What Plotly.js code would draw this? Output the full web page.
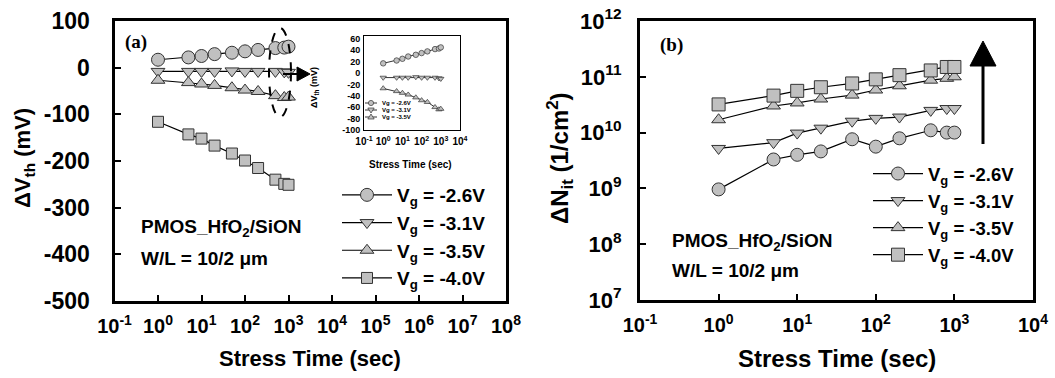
<!DOCTYPE html>
<html><head><meta charset="utf-8">
<script src="https://cdn.plot.ly/plotly-3.0.1.min.js"></script>
<style>html,body{margin:0;padding:0;background:#fff}</style>
</head><body><div id="chart" style="width:1055px;height:378px"></div>
<script>
// ---------------- data ----------------
const stressTime = [1, 5, 10, 20, 50, 100, 200, 500, 800, 1000];

// panel (a): threshold-voltage shift (mV)
const dVth_m26 = [17, 22, 25, 29, 32, 35, 38, 42, 43, 45];
const dVth_m31 = [-8, -8, -8, -8, -7, -8, -8, -8, -9, -10];
const dVth_m35 = [-27, -32, -35, -38, -43, -48, -51, -60, -64, -63];
const dVth_m40 = [-116, -143, -152, -167, -184, -199, -215, -240, -249, -251];

// panel (b): interface trap density (1/cm^2)
const dNit_m26 = [9.6e8, 3.3e9, 4.0e9, 4.6e9, 7.6e9, 5.6e9, 7.9e9, 1.1e10, 1.0e10, 1.0e10];
const dNit_m31 = [5.2e9, 6.6e9, 9.8e9, 1.2e10, 1.6e10, 1.8e10, 1.9e10, 2.5e10, 2.7e10, 2.7e10];
const dNit_m35 = [1.7e10, 3.0e10, 3.4e10, 4.0e10, 4.7e10, 5.8e10, 6.9e10, 8.7e10, 9.4e10, 1.0e11];
const dNit_m40 = [3.2e10, 4.6e10, 5.6e10, 6.5e10, 7.6e10, 9.0e10, 1.07e11, 1.3e11, 1.5e11, 1.5e11];

const seriesNames = ['V<sub>g</sub> = -2.6V', 'V<sub>g</sub> = -3.1V', 'V<sub>g</sub> = -3.5V', 'V<sub>g</sub> = -4.0V'];
const insetNames = ['Vg = -2.6V', 'Vg = -3.1V', 'Vg = -3.5V'];
const symbols = ['circle', 'triangle-down', 'triangle-up', 'square'];

const xExpA = [-1, 0, 1, 2, 3, 4, 5, 6, 7, 8];
const xExpB = [-1, 0, 1, 2, 3, 4];
const yTicksA = [100, 0, -100, -200, -300, -400, -500];
const yExpB = [7, 8, 9, 10, 11, 12];
const insetYTicks = [60, 40, 20, 0, -20, -40, -60, -80, -100];

// ---------------- helpers ----------------
const W = 1055, H = 378;
const px = x => x / W;
const py = y => 1 - y / H;
const pow10 = e => Math.pow(10, e);
const powText = e => '10<sup>' + e + '</sup>';
const FONT = 'Liberation Sans, Arial, Helvetica, sans-serif';
const SERIF = 'Liberation Serif, Times New Roman, serif';
const FILL = '#c0c0c0', EDGE = '#333333';

function mk(x, y, i, xa, ya, size, lw, legendName, showlegend) {
  return {
    x: x, y: y, xaxis: xa, yaxis: ya, type: 'scatter', mode: 'lines+markers',
    name: seriesNames[i], legend: legendName, showlegend: showlegend,
    line: {color: '#000', width: lw},
    marker: {symbol: symbols[i], size: size[i], color: FILL, line: {color: EDGE, width: lw > 1 ? 1 : 0.7}},
    hoverinfo: 'skip'
  };
}

const sizesA = [13, 12, 12, 11];
const sizesB = [13, 12, 12, 13];
const sizesI = [5.5, 5.5, 5.5];
const dataA = [dVth_m26, dVth_m31, dVth_m35, dVth_m40];
const dataB = [dNit_m26, dNit_m31, dNit_m35, dNit_m40];
const dataI = [dVth_m26, dVth_m31, dVth_m35];

const traces = [];
dataA.forEach((d, i) => traces.push(mk(stressTime, d, i, 'x', 'y', sizesA, 1.2, 'legend', true)));
dataB.forEach((d, i) => traces.push(mk(stressTime, d, i, 'x2', 'y2', sizesB, 1.2, 'legend2', true)));
dataI.forEach((d, i) => traces.push(mk(stressTime, d, i, 'x3', 'y3', sizesI, 0.8, 'legend', false)));

function axBase(extra) {
  return Object.assign({
    showline: true, linecolor: '#000', linewidth: 3, mirror: true,
    ticks: 'inside', ticklen: 6, tickwidth: 2, tickcolor: '#000',
    showgrid: false, zeroline: false, fixedrange: true,
    tickfont: {family: FONT, size: 20, color: '#000', weight: 'bold'}
  }, extra);
}

const layout = {
  width: W, height: H, autosize: false,
  margin: {l: 0, r: 0, t: 0, b: 0},
  paper_bgcolor: '#fff', plot_bgcolor: '#fff',
  showlegend: true,
  xaxis: axBase({domain: [px(114.5), px(506)], type: 'log', range: [-1, 8], anchor: 'y',
    tickmode: 'array', tickvals: xExpA.map(pow10), ticktext: xExpA.map(powText), ticklabelstandoff: 5}),
  yaxis: axBase({domain: [py(301), py(21)], range: [-500, 100], anchor: 'x',
    tickmode: 'array', tickvals: yTicksA, ticktext: yTicksA.map(String), ticklabelstandoff: 17,
    tickfont: {family: FONT, size: 23, color: '#000', weight: 'bold'}}),
  xaxis2: axBase({domain: [px(640), px(1033)], type: 'log', range: [-1, 4], anchor: 'y2',
    tickmode: 'array', tickvals: xExpB.map(pow10), ticktext: xExpB.map(powText), ticklabelstandoff: 5}),
  yaxis2: axBase({domain: [py(300), py(21)], type: 'log', range: [7, 12], anchor: 'x2',
    tickmode: 'array', tickvals: yExpB.map(pow10), ticktext: yExpB.map(powText), ticklabelstandoff: 11,
    tickfont: {family: FONT, size: 22, color: '#000', weight: 'bold'}}),
  xaxis3: axBase({domain: [px(364), px(460)], type: 'log', range: [-1, 4], anchor: 'y3',
    linewidth: 1, ticks: '', tickmode: 'array', tickvals: xExpB.map(pow10), ticktext: xExpB.map(powText),
    ticklabelstandoff: 2, tickfont: {family: FONT, size: 10, color: '#000', weight: 'bold'}}),
  yaxis3: axBase({domain: [py(130), py(36)], range: [-100, 65], anchor: 'x3',
    linewidth: 1, ticks: '', tickmode: 'array', tickvals: insetYTicks, ticktext: insetYTicks.map(String),
    ticklabelstandoff: 1, tickfont: {family: FONT, size: 9, color: '#000', weight: 'bold'}}),
  legend: {x: px(337), y: py(176), xanchor: 'left', yanchor: 'top', bgcolor: 'rgba(0,0,0,0)',
    font: {family: FONT, size: 19, color: '#000', weight: 'bold'}, itemwidth: 50, tracegroupgap: 0},
  legend2: {x: px(868), y: py(155), xanchor: 'left', yanchor: 'top', bgcolor: 'rgba(0,0,0,0)',
    font: {family: FONT, size: 18.5, color: '#000', weight: 'bold'}, itemwidth: 50, tracegroupgap: 0},
  annotations: [],
  shapes: []
};

function ann(text, x, y, size, opts) {
  layout.annotations.push(Object.assign({
    text: text, x: px(x), y: py(y), xref: 'paper', yref: 'paper', showarrow: false,
    xanchor: 'center', yanchor: 'middle',
    font: {family: FONT, size: size, color: '#000', weight: 'bold'}
  }, opts || {}));
}

// titles
ann('Stress Time (sec)', 310, 358, 22);
ann('Stress Time (sec)', 837, 358, 24);
ann('ΔV<sub>th</sub> (mV)', 24, 158, 22, {textangle: -90});
ann('ΔN<sub>it</sub> (1/cm<sup>2</sup>)', 560, 158, 24, {textangle: -90});
// panel tags
ann('(a)', 123, 42, 19, {xanchor: 'left', font: {family: SERIF, size: 19, color: '#000', weight: 'bold'}});
ann('(b)', 658, 45, 19, {xanchor: 'left', font: {family: SERIF, size: 19, color: '#000', weight: 'bold'}});
// device notes
ann('PMOS_HfO<sub>2</sub>/SiON', 139, 228, 19, {xanchor: 'left'});
ann('W/L = 10/2 μm', 139, 258, 19, {xanchor: 'left'});
ann('PMOS_HfO<sub>2</sub>/SiON', 670, 242, 19, {xanchor: 'left'});
ann('W/L = 10/2 μm', 670, 270, 19, {xanchor: 'left'});
// inset titles
ann('ΔV<sub>th</sub> (mV)', 314, 88, 9, {textangle: -90});
ann('Stress Time (sec)', 410, 164, 10);

// inset legend (hand-drawn glyphs)
const insetRows = [103, 110, 117];
insetRows.forEach((cy, i) => {
  layout.shapes.push({type: 'line', xref: 'paper', yref: 'paper', x0: px(365), x1: px(377), y0: py(cy), y1: py(cy), line: {color: '#000', width: 0.8}});
  const cx = 371, r = 2.6;
  if (i === 0) {
    layout.shapes.push({type: 'circle', xref: 'paper', yref: 'paper', x0: px(cx - r), x1: px(cx + r), y0: py(cy + r), y1: py(cy - r), fillcolor: FILL, line: {color: EDGE, width: 0.7}});
  } else {
    const s = i === 1 ? 1 : -1;
    const p = `M${px(cx - 3.2)},${py(cy - 2 * s)} L${px(cx + 3.2)},${py(cy - 2 * s)} L${px(cx)},${py(cy + 3 * s)} Z`;
    layout.shapes.push({type: 'path', xref: 'paper', yref: 'paper', path: p, fillcolor: FILL, line: {color: EDGE, width: 0.7}});
  }
  ann(insetNames[i], 380, cy, 6, {xanchor: 'left'});
});

// dashed ellipse + arrow in (a)
layout.shapes.push({type: 'circle', xref: 'paper', yref: 'paper', x0: px(269), x1: px(291), y0: py(117), y1: py(28), line: {color: '#000', width: 2, dash: 'dash'}});
layout.shapes.push({type: 'line', xref: 'paper', yref: 'paper', x0: px(283), x1: px(299), y0: py(74), y1: py(74), line: {color: '#000', width: 2}});
layout.shapes.push({type: 'path', xref: 'paper', yref: 'paper', path: `M${px(297)},${py(67)} L${px(310)},${py(74)} L${px(297)},${py(81)} Z`, fillcolor: '#000', line: {color: '#000', width: 1}});
// vertical arrow in (b)
layout.shapes.push({type: 'line', xref: 'paper', yref: 'paper', x0: px(983), x1: px(983), y0: py(144), y1: py(64), line: {color: '#000', width: 3}});
layout.shapes.push({type: 'path', xref: 'paper', yref: 'paper', path: `M${px(970)},${py(66)} L${px(983)},${py(41)} L${px(996)},${py(66)} Z`, fillcolor: '#000', line: {color: '#000', width: 1}});

Plotly.newPlot('chart', traces, layout, {staticPlot: true, displayModeBar: false});
</script>
</body></html>
